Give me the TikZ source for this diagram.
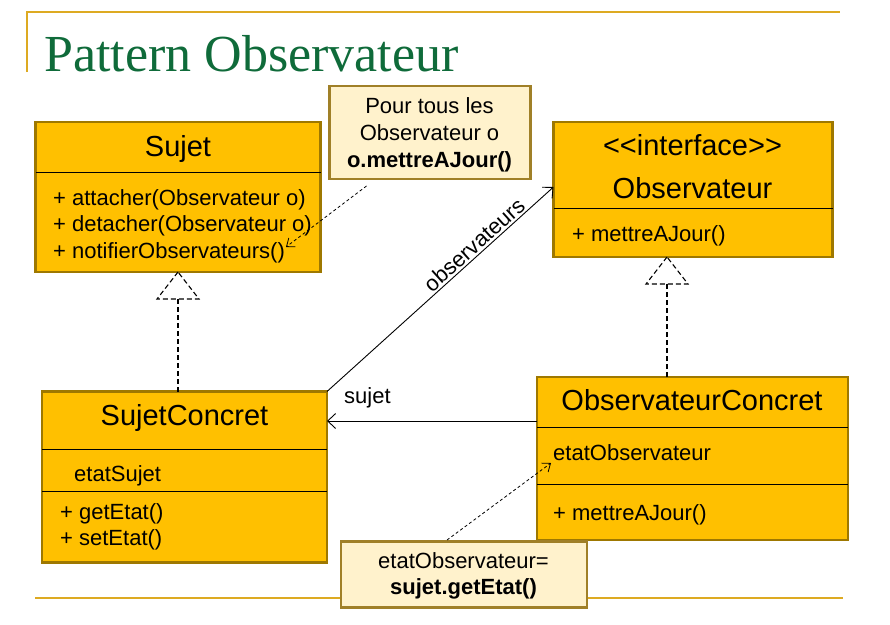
\documentclass[tikz,border=0pt]{standalone}
\usepackage{fontspec}
\setmainfont{Liberation Sans}
\newfontfamily\titlefont{Liberation Serif}
\usetikzlibrary{arrows.meta,calc}

\definecolor{classfill}{HTML}{FFC000}
\definecolor{classline}{HTML}{9E7800}
\definecolor{notefill}{HTML}{FFF2CC}
\definecolor{noteline}{HTML}{A08028}
\definecolor{titlegreen}{HTML}{0F6B3A}
\definecolor{rulegold}{HTML}{DDAA22}

\tikzset{
  classbox/.style={draw=classline, fill=classfill, line width=2.4pt,
    rectangle, inner sep=0, outer sep=0, anchor=north west},
  notebox/.style={draw=noteline, fill=notefill, line width=2.4pt,
    rectangle, inner sep=0, outer sep=0, anchor=north west},
  sepline/.style={line width=0.9pt, draw=black},
  bigtxt/.style={inner sep=0, font=\fontsize{29}{34}\selectfont, anchor=base},
  txt/.style={inner sep=0, font=\fontsize{22}{26}\selectfont, anchor=base west},
  ctxt/.style={inner sep=0, font=\fontsize{22}{26}\selectfont, anchor=base},
  realize/.style={draw=black, line width=1.1pt, dash pattern=on 5pt off 3pt},
  assoc/.style={draw=black, line width=0.9pt,
    -{Straight Barb[length=8,width=15,line width=0.9pt]}},
  noteref/.style={draw=black, line width=0.8pt, dash pattern=on 3pt off 2.5pt,
    -{Straight Barb[length=7,width=11,line width=0.8pt]}},
  goldrule/.style={draw=rulegold, line width=2pt}
}

\begin{document}
\begin{tikzpicture}[x=1pt,y=-1pt]
\useasboundingbox (0,0) rectangle (890,624);

% frame rules and title
\coordinate (ruleTL) at (27,12);
\coordinate (ruleTR) at (840,12);
\coordinate (ruleTB) at (27,72);
\coordinate (ruleBL) at (35,598);
\coordinate (ruleBR) at (843,598);
\draw[goldrule] (ruleTB) -- (ruleTL) -- (ruleTR);
\draw[goldrule] (ruleBL) -- (ruleBR);
\node[inner sep=0, anchor=base west, text=titlegreen,
      font=\titlefont\fontsize{52}{60}\selectfont] (title) at (44,71) {Pattern Observateur};

% class Sujet
\node[classbox, minimum width=285, minimum height=150] (sujet) at (35.5,122) {};
\draw[sepline] (sujet.west |- 0,172) -- (sujet.east |- 0,172);
\node[bigtxt] (sujetname) at (178,156) {Sujet};
\node[txt] (sujetm1) at (53,205) {+ attacher(Observateur o)};
\node[txt] (sujetm2) at (53,231) {+ detacher(Observateur o)};
\node[txt] (sujetm3) at (53,258) {+ notifierObservateurs()};

% interface Observateur
\node[classbox, minimum width=279, minimum height=135] (obs) at (553.5,122) {};
\draw[sepline] (obs.west |- 0,208) -- (obs.east |- 0,208);
\node[bigtxt] (obsstereo) at (692.5,155) {{<}{<}interface{>}{>}};
\node[bigtxt] (obsname) at (692.5,198) {Observateur};
\node[txt] (obsm1) at (572,241) {+ mettreAJour()};

% class SujetConcret
\node[classbox, minimum width=285, minimum height=171] (sconc) at (42,391.5) {};
\draw[sepline] (sconc.west |- 0,449) -- (sconc.east |- 0,449);
\draw[sepline] (sconc.west |- 0,491) -- (sconc.east |- 0,491);
\node[bigtxt] (sconcname) at (184.5,425) {SujetConcret};
\node[txt] (sconca1) at (74,481) {etatSujet};
\node[txt] (sconcm1) at (60,519) {+ getEtat()};
\node[txt] (sconcm2) at (60,545) {+ setEtat()};

% class ObservateurConcret
\node[classbox, minimum width=311, minimum height=163] (oconc) at (537,377) {};
\draw[sepline] (oconc.west |- 0,427) -- (oconc.east |- 0,427);
\draw[sepline] (oconc.west |- 0,484) -- (oconc.east |- 0,484);
\node[bigtxt] (oconcname) at (692,410.5) {ObservateurConcret};
\node[txt] (oconca1) at (553,460.5) {etatObservateur};
\node[txt] (oconcm1) at (553,520) {+ mettreAJour()};

% notes
\node[notebox, minimum width=201, minimum height=93] (note1) at (329.5,86) {};
\node[ctxt] (note1l1) at (429.5,113) {Pour tous les};
\node[ctxt] (note1l2) at (429.5,140.5) {Observateur o};
\node[ctxt, font=\bfseries\fontsize{22}{26}\selectfont] (note1l3) at (429.5,167) {o.mettreAJour()};

\node[notebox, minimum width=246, minimum height=66] (note2) at (341,541.5) {};
\node[ctxt] (note2l1) at (463.5,568) {etatObservateur=};
\node[ctxt, font=\bfseries\fontsize{22}{26}\selectfont] (note2l2) at (463.5,594) {sujet.getEtat()};

% realizations (dashed line, dashed hollow triangle)
\coordinate (triS) at ($(sujet.south)+(0,27)$);
\draw[realize] (triS |- sconc.north) -- (triS);
\draw[realize] (sujet.south) -- ++(-21,27) -- ++(42,0) -- cycle;

\coordinate (apexO) at ($(obs.south west)+(113.5,0)$);
\coordinate (triO) at ($(apexO)+(0,27)$);
\draw[realize] (triO |- oconc.north) -- (triO);
\draw[realize] (apexO) -- ++(-21,27) -- ++(42,0) -- cycle;

% associations
\coordinate (obsIn) at ($(obs.north west)+(0,65)$);
\draw[assoc] (sconc.north east) -- (obsIn)
  node[pos=0.68, sloped, above=2pt, inner sep=0,
       font=\fontsize{22}{26}\selectfont] (lblobs) {observateurs};

\coordinate (sujOut) at ($(oconc.north west)+(0,44)$);
\draw[assoc] (sujOut) -- (sconc.east |- sujOut);
\node[txt] (lblsujet) at (344,403) {sujet};

% note references
\coordinate (n1from) at (366.5,186);
\coordinate (n1to) at (286,247);
\draw[noteref] (n1from) -- (n1to);
\coordinate (n2from) at (447,540);
\coordinate (n2to) at (551,463);
\draw[noteref] (n2from) -- (n2to);
\end{tikzpicture}
\end{document}
